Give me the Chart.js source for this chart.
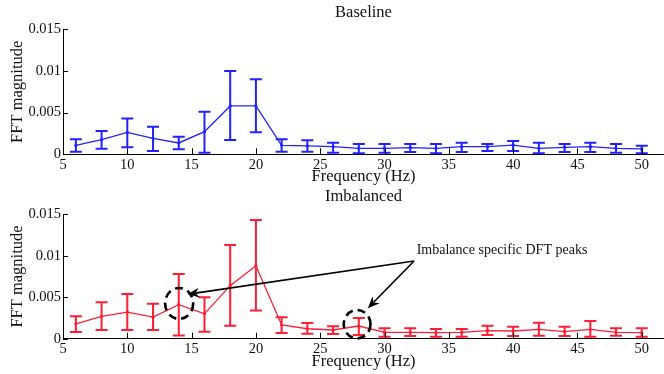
<!DOCTYPE html>
<html>
<head>
<meta charset="utf-8">
<script src="https://cdn.jsdelivr.net/npm/chart.js@4.4.1/dist/chart.umd.min.js"></script>
<style>
  html, body { margin: 0; padding: 0; background: #ffffff; }
  #wrap { position: relative; width: 664px; height: 374px; overflow: hidden; }
  canvas { position: absolute; left: 0; }
  #c1 { top: 0; }
  #c2 { top: 187px; }
</style>
</head>
<body>
<div id="wrap">
  <canvas id="c1" width="668" height="187"></canvas>
  <canvas id="c2" width="668" height="187"></canvas>
</div>
<script>
// ---------- DATA ----------
const frequencies = [6, 8, 10, 12, 14, 16, 18, 20, 22, 24, 26, 28, 30, 32, 34, 36, 38, 40, 42, 44, 46, 48, 50];

const baselineMean  = [0.00108, 0.00175, 0.00264, 0.00192, 0.00136, 0.00272, 0.0058, 0.0058, 0.00108, 0.0010, 0.00092, 0.00072, 0.00072, 0.0008, 0.00072, 0.00092, 0.00092, 0.0011, 0.00072, 0.00084, 0.00092, 0.00072, 0.00064];
const baselineUpper = [0.0018, 0.0028, 0.0043, 0.0033, 0.0021, 0.0051, 0.0100, 0.0090, 0.0018, 0.0017, 0.0014, 0.00124, 0.00124, 0.00124, 0.00124, 0.0014, 0.00124, 0.0016, 0.0014, 0.00124, 0.0014, 0.00124, 0.00104];
const baselineLower = [0.0003, 0.00068, 0.00086, 0.0004, 0.0006, 0.0002, 0.00172, 0.00264, 0.0003, 0.0003, 0.0002, 0.00012, 0.0002, 0.00028, 0.00012, 0.00028, 0.0004, 0.0004, 0.00012, 0.00028, 0.00028, 0.0002, 0.00012];

const imbalancedMean  = [0.0018, 0.0027, 0.0032, 0.0026, 0.0041, 0.0030, 0.0064, 0.0088, 0.00165, 0.0012, 0.00105, 0.00153, 0.00077, 0.00077, 0.00073, 0.00077, 0.00097, 0.00093, 0.00113, 0.00085, 0.00113, 0.00077, 0.00073];
const imbalancedUpper = [0.0027, 0.0044, 0.0054, 0.0042, 0.0078, 0.0050, 0.0113, 0.0143, 0.0026, 0.0019, 0.0015, 0.0025, 0.00125, 0.00125, 0.00117, 0.00117, 0.00157, 0.00145, 0.00193, 0.00145, 0.00213, 0.00125, 0.00125];
const imbalancedLower = [0.0008, 0.00105, 0.00105, 0.00105, 0.0004, 0.00085, 0.00157, 0.0034, 0.0007, 0.0006, 0.00057, 0.00045, 0.00025, 0.00033, 0.00025, 0.00025, 0.00045, 0.00033, 0.00037, 0.00033, 0.00025, 0.00037, 0.00025];

const yTickLabels = ['0', '0.005', '0.01', '0.015'];
const yTickValues = [0, 0.005, 0.01, 0.015];

const annotationText = 'Imbalance specific DFT peaks';
// annotation geometry in data units (frequency, magnitude)
const annotationAnchor = [32.5, 0.0107];   // text left / middle
const arrowStart = [32.3, 0.00937];
const arrowTips = [[14.68, 0.00535], [28.7, 0.00367]];
const peakEllipses = [[14.03, 0.00425, 1.09, 0.00187], [27.87, 0.00175, 1.04, 0.00171]];

// ---------- PLUGINS ----------
const errorBarPlugin = {
  id: 'errorBars',
  afterDatasetsDraw(chart) {
    const ctx = chart.ctx, xs = chart.scales.x, ys = chart.scales.y;
    chart.data.datasets.forEach(ds => {
      if (!ds.upper) return;
      ctx.save();
      ctx.strokeStyle = ds.borderColor;
      ctx.lineWidth = 2;
      const cap = 6;
      ds.data.forEach((p, i) => {
        const px = xs.getPixelForValue(p.x);
        const pt = ys.getPixelForValue(ds.upper[i]);
        const pb = ys.getPixelForValue(ds.lower[i]);
        ctx.beginPath();
        ctx.moveTo(px, pt); ctx.lineTo(px, pb);
        ctx.moveTo(px - cap, pt); ctx.lineTo(px + cap, pt);
        ctx.moveTo(px - cap, pb); ctx.lineTo(px + cap, pb);
        ctx.stroke();
      });
      ctx.restore();
    });
  }
};

const innerTicksPlugin = {
  id: 'innerTicks',
  afterDraw(chart) {
    const ctx = chart.ctx, xs = chart.scales.x, ys = chart.scales.y;
    const area = chart.chartArea;
    ctx.save();
    ctx.strokeStyle = '#000';
    ctx.lineWidth = 1;
    ctx.beginPath();
    xs.ticks.forEach(t => {
      const px = Math.round(xs.getPixelForValue(t.value)) + 0.5;
      ctx.moveTo(px, area.bottom); ctx.lineTo(px, area.bottom - 6);
    });
    ys.ticks.forEach(t => {
      const py = Math.round(ys.getPixelForValue(t.value)) + 0.5;
      ctx.moveTo(area.left, py); ctx.lineTo(area.left + 5, py);
    });
    ctx.stroke();
    ctx.restore();
  }
};

function drawArrow(ctx, x0, y0, x1, y1) {
  const ang = Math.atan2(y1 - y0, x1 - x0);
  const len = 12, half = 5, back = 8;
  ctx.beginPath();
  ctx.moveTo(x0, y0);
  ctx.lineTo(x1 - Math.cos(ang) * back, y1 - Math.sin(ang) * back);
  ctx.stroke();
  const bx = x1 - Math.cos(ang) * len, by = y1 - Math.sin(ang) * len;
  const nx = -Math.sin(ang), ny = Math.cos(ang);
  ctx.beginPath();
  ctx.moveTo(x1, y1);
  ctx.lineTo(bx + nx * half, by + ny * half);
  ctx.lineTo(x1 - Math.cos(ang) * back, y1 - Math.sin(ang) * back);
  ctx.lineTo(bx - nx * half, by - ny * half);
  ctx.closePath();
  ctx.fill();
}

const annotationPlugin = {
  id: 'peakAnnotation',
  afterDraw(chart, args, opts) {
    if (!opts || !opts.enabled) return;
    const ctx = chart.ctx, xs = chart.scales.x, ys = chart.scales.y;
    ctx.save();
    ctx.fillStyle = '#111';
    ctx.strokeStyle = '#000';
    ctx.font = '14px "Liberation Serif", "Times New Roman", serif';
    ctx.textBaseline = 'middle';
    ctx.textAlign = 'left';
    ctx.fillText(annotationText, xs.getPixelForValue(annotationAnchor[0]), ys.getPixelForValue(annotationAnchor[1]));
    ctx.lineWidth = 1.6;
    ctx.fillStyle = '#000';
    const sx = xs.getPixelForValue(arrowStart[0]), sy = ys.getPixelForValue(arrowStart[1]);
    arrowTips.forEach(t => {
      drawArrow(ctx, sx, sy, xs.getPixelForValue(t[0]), ys.getPixelForValue(t[1]));
    });
    ctx.lineWidth = 2.6;
    ctx.setLineDash([8, 5]);
    peakEllipses.forEach(e => {
      const cx = xs.getPixelForValue(e[0]), cy = ys.getPixelForValue(e[1]);
      const rx = Math.abs(xs.getPixelForValue(e[0] + e[2]) - cx);
      const ry = Math.abs(ys.getPixelForValue(e[1] + e[3]) - cy);
      ctx.beginPath();
      ctx.ellipse(cx, cy, rx, ry, 0, 0, Math.PI * 2);
      ctx.stroke();
    });
    ctx.restore();
  }
};

// ---------- CHART BUILDER ----------
const serif = '"Liberation Serif", "Times New Roman", serif';

function makeChart(canvasId, title, color, mean, upper, lower, geo, annotate) {
  const points = frequencies.map((f, i) => ({ x: f, y: mean[i] }));
  return new Chart(document.getElementById(canvasId), {
    type: 'line',
    data: {
      datasets: [{
        data: points,
        upper: upper,
        lower: lower,
        borderColor: color,
        backgroundColor: color,
        borderWidth: 1.3,
        pointRadius: 1.6,
        pointBorderWidth: 0,
        pointBackgroundColor: color,
        tension: 0,
        fill: false
      }]
    },
    options: {
      responsive: false,
      animation: false,
      devicePixelRatio: 1,
      layout: { padding: 0 },
      plugins: {
        legend: { display: false },
        tooltip: { enabled: false },
        title: {
          display: true,
          fullSize: false,
          text: title,
          color: '#111',
          font: { family: serif, size: 16.5, weight: 'normal', lineHeight: 1.2 },
          padding: { top: geo.titleTop, bottom: geo.titleBottom },
          position: 'top'
        },
        peakAnnotation: { enabled: annotate }
      },
      scales: {
        x: {
          type: 'linear',
          min: 5,
          max: 51.73,
          grid: { display: false, drawTicks: false },
          border: { display: true, color: '#000', width: 1 },
          ticks: {
            stepSize: 5,
            includeBounds: false,
            color: '#111',
            padding: 2,
            maxRotation: 0,
            font: { family: serif, size: 14.5 }
          },
          title: {
            display: true,
            text: 'Frequency (Hz)',
            color: '#111',
            font: { family: serif, size: 16.5, lineHeight: 1.2 },
            padding: { top: 0, bottom: geo.xTitleBottom }
          },
          afterFit(scale) {
            scale.height = geo.xHeight;
            scale.paddingRight = 0;
            scale.paddingLeft = 0;
          }
        },
        y: {
          type: 'linear',
          min: 0,
          max: 0.015,
          grid: { display: false, drawTicks: false },
          border: { display: true, color: '#000', width: 1 },
          afterBuildTicks(scale) { scale.ticks = yTickValues.map(v => ({ value: v })); },
          ticks: {
            color: '#111',
            padding: 2,
            font: { family: serif, size: 14.5 },
            callback: (v) => yTickLabels[yTickValues.indexOf(v)] ?? ''
          },
          title: {
            display: true,
            text: 'FFT magnitude',
            color: '#111',
            font: { family: serif, size: 16.5, lineHeight: 1.2 },
            padding: { top: 8.1, bottom: 0 }
          },
          afterFit(scale) { scale.width = 63; }
        }
      }
    },
    plugins: [errorBarPlugin, innerTicksPlugin, annotationPlugin]
  });
}

makeChart('c1', 'Baseline', '#2222ff', baselineMean, baselineUpper, baselineLower,
  { titleTop: 3.1, titleBottom: 6.4, xHeight: 32.7, xTitleBottom: 0 }, false);
makeChart('c2', 'Imbalanced', '#ff1f35', imbalancedMean, imbalancedUpper, imbalancedLower,
  { titleTop: 0.1, titleBottom: 7.4, xHeight: 35.3, xTitleBottom: 2.4 }, true);
</script>
</body>
</html>
